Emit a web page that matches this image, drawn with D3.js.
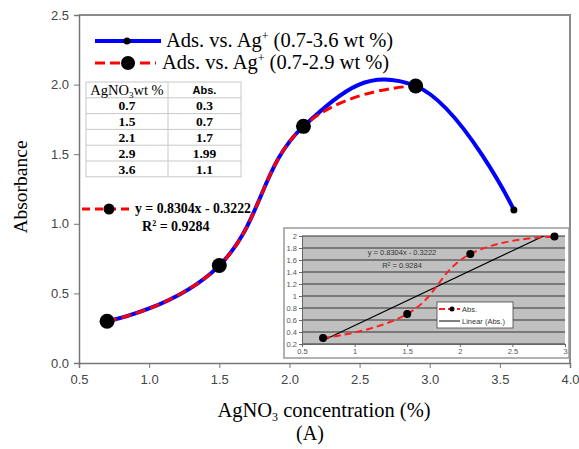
<!DOCTYPE html>
<html>
<head>
<meta charset="utf-8">
<script src="https://cdn.jsdelivr.net/npm/d3@7"></script>
<style>
  body { margin: 0; background: #fff; }
  svg { display: block; }
</style>
</head>
<body>
<script>
const width = 579;
const height = 449;

// main chart data
const concAll = [0.7, 1.5, 2.1, 2.9, 3.6];
const absAll = [0.3, 0.7, 1.7, 1.99, 1.1];
const concFit = [0.7, 1.5, 2.1, 2.9];
const absFit = [0.3, 0.7, 1.7, 1.99];
const xTicks = [0.5, 1.0, 1.5, 2.0, 2.5, 3.0, 3.5, 4.0];
const yTicks = [0.0, 0.5, 1.0, 1.5, 2.0, 2.5];
const seriesRanges = ['(0.7-3.6 wt %)', '(0.7-2.9 wt %)'];

// table
const tableConc = ['0.7', '1.5', '2.1', '2.9', '3.6'];
const tableAbs = ['0.3', '0.7', '1.7', '1.99', '1.1'];

// linear fit
const slope = 0.8304;
const intercept = -0.3222;
const rSquared = 0.9284;

// inset (excel screenshot)
const insetXTicks = [0.5, 1, 1.5, 2, 2.5, 3];
const insetYTicks = [0.2, 0.4, 0.6, 0.8, 1, 1.2, 1.4, 1.6, 1.8, 2];

const serif = '"Liberation Serif", "Times New Roman", serif';
const sans = '"Liberation Sans", Arial, sans-serif';

function main() {
  const svg = d3.select('body').append('svg').attr('width', width).attr('height', height);

  const x = d3.scaleLinear().domain([0.5, 4]).range([79, 570]);
  const y = d3.scaleLinear().domain([0, 2.5]).range([363, 15]);

  drawFrame(svg, x, y);
  drawTable(svg);
  drawInset(svg);
  drawSeries(svg, x, y);
  drawLegend(svg);
  drawFitLabel(svg);
  drawTitles(svg);
}

function drawFrame(svg, x, y) {
  svg.append('path')
    .attr('d', `M${x(0.5)},${y(2.5)}H${x(4)}V${y(0)}`)
    .attr('fill', 'none')
    .attr('stroke', '#8a8a8a')
    .attr('stroke-width', 2);

  const xAxis = svg.append('g')
    .attr('transform', `translate(0,${y(0)})`)
    .call(d3.axisBottom(x).tickValues(xTicks).tickFormat(d3.format('.1f')).tickSize(5).tickPadding(7));
  const yAxis = svg.append('g')
    .attr('transform', `translate(${x(0.5)},0)`)
    .call(d3.axisLeft(y).tickValues(yTicks).tickFormat(d3.format('.1f')).tickSize(5).tickPadding(5));

  [xAxis, yAxis].forEach(g => {
    g.select('.domain').attr('stroke', '#777').attr('stroke-width', 1.5);
    g.selectAll('.tick line').attr('stroke', '#777');
    g.selectAll('.tick text')
      .attr('fill', '#444')
      .style('font-family', sans)
      .style('font-size', '13px');
  });
}

function drawSeries(svg, x, y) {
  const ptsAll = concAll.map((c, i) => [c, absAll[i]]);
  const ptsFit = concFit.map((c, i) => [c, absFit[i]]);

  const line = d3.line()
    .x(d => x(d[0]))
    .y(d => y(d[1]))
    .curve(d3.curveCardinal.tension(-0.3));

  svg.append('path')
    .datum(ptsAll)
    .attr('d', line)
    .attr('fill', 'none')
    .attr('stroke', '#0000ff')
    .attr('stroke-width', 4);

  svg.append('path')
    .datum(ptsFit)
    .attr('d', line)
    .attr('fill', 'none')
    .attr('stroke', '#ff0000')
    .attr('stroke-width', 3)
    .attr('stroke-dasharray', '10,5');

  svg.append('g')
    .selectAll('circle')
    .data(ptsAll)
    .enter()
    .append('circle')
    .attr('cx', d => x(d[0]))
    .attr('cy', d => y(d[1]))
    .attr('r', (d, i) => (i < ptsFit.length ? 7.5 : 3.5))
    .attr('fill', '#000');
}

function legendLabel(g, xPos, yPos, range) {
  const t = g.append('text')
    .attr('x', xPos)
    .attr('y', yPos)
    .style('font-family', serif)
    .style('font-size', '20.5px')
    .attr('fill', '#000');
  t.append('tspan').text('Ads. vs. Ag');
  t.append('tspan').attr('dy', -7).style('font-size', '12px').text('+');
  t.append('tspan').attr('dy', 7).text(' ' + range);
}

function drawLegend(svg) {
  const g = svg.append('g');

  g.append('line')
    .attr('x1', 95).attr('x2', 161).attr('y1', 41).attr('y2', 41)
    .attr('stroke', '#0000ff').attr('stroke-width', 4);
  g.append('circle').attr('cx', 127).attr('cy', 41).attr('r', 3.5).attr('fill', '#000');
  legendLabel(g, 166, 47, seriesRanges[0]);

  g.append('line')
    .attr('x1', 95).attr('x2', 156).attr('y1', 63).attr('y2', 63)
    .attr('stroke', '#ff0000').attr('stroke-width', 3).attr('stroke-dasharray', '10,5');
  g.append('circle').attr('cx', 128).attr('cy', 63).attr('r', 7).attr('fill', '#000');
  legendLabel(g, 162, 69, seriesRanges[1]);
}

function drawTable(svg) {
  const left = 86, mid = 168, right = 241, top = 82, rowH = 15.8;
  const rows = tableConc.length + 1;
  const g = svg.append('g');

  g.append('rect')
    .attr('x', left).attr('y', top)
    .attr('width', right - left).attr('height', rows * rowH)
    .attr('fill', '#fff').attr('stroke', '#c8c8c8');
  g.append('line')
    .attr('x1', mid).attr('x2', mid).attr('y1', top).attr('y2', top + rows * rowH)
    .attr('stroke', '#c8c8c8');
  d3.range(1, rows).forEach(i => {
    g.append('line')
      .attr('x1', left).attr('x2', right)
      .attr('y1', top + i * rowH).attr('y2', top + i * rowH)
      .attr('stroke', '#c8c8c8');
  });

  const head = g.append('text')
    .attr('x', (left + mid) / 2).attr('y', top + 12.5)
    .attr('text-anchor', 'middle')
    .style('font-family', serif).style('font-size', '14.5px');
  head.append('tspan').text('AgNO');
  head.append('tspan').attr('dy', 3).style('font-size', '9px').text('3');
  head.append('tspan').attr('dy', -3).text('wt %');

  g.append('text')
    .attr('x', (mid + right) / 2).attr('y', top + 12)
    .attr('text-anchor', 'middle')
    .style('font-family', sans).style('font-size', '11px').style('font-weight', 'bold')
    .text('Abs.');

  tableConc.forEach((c, i) => {
    const yy = top + (i + 1) * rowH + 12.5;
    g.append('text')
      .attr('x', (left + mid) / 2).attr('y', yy)
      .attr('text-anchor', 'middle')
      .style('font-family', serif).style('font-size', '13.5px').style('font-weight', 'bold')
      .text(c);
    g.append('text')
      .attr('x', (mid + right) / 2).attr('y', yy)
      .attr('text-anchor', 'middle')
      .style('font-family', serif).style('font-size', '13.5px').style('font-weight', 'bold')
      .text(tableAbs[i]);
  });
}

function drawFitLabel(svg) {
  const g = svg.append('g');
  g.append('line')
    .attr('x1', 82).attr('x2', 131).attr('y1', 209).attr('y2', 209)
    .attr('stroke', '#ff0000').attr('stroke-width', 3).attr('stroke-dasharray', '8,5');
  g.append('circle').attr('cx', 109).attr('cy', 209).attr('r', 5.5).attr('fill', '#000');

  g.append('text')
    .attr('x', 135).attr('y', 213)
    .style('font-family', serif).style('font-size', '13.8px').style('font-weight', 'bold')
    .text(`y = ${slope}x - ${Math.abs(intercept)}`);

  const r = g.append('text')
    .attr('x', 142).attr('y', 231)
    .style('font-family', serif).style('font-size', '14px').style('font-weight', 'bold');
  r.append('tspan').text('R');
  r.append('tspan').attr('dy', -5).style('font-size', '8px').text('2');
  r.append('tspan').attr('dy', 5).text(` = ${rSquared}`);
}

function drawInset(svg) {
  const ix = d3.scaleLinear().domain([0.5, 3]).range([302, 565]);
  const iy = d3.scaleLinear().domain([0.2, 2]).range([344, 236]);
  const g = svg.append('g');

  g.append('rect')
    .attr('x', 284).attr('y', 228).attr('width', 285).attr('height', 130)
    .attr('fill', '#fff').attr('stroke', '#999').attr('stroke-width', 1.5);

  g.append('rect')
    .attr('x', ix(0.5)).attr('y', iy(2))
    .attr('width', ix(3) - ix(0.5)).attr('height', iy(0.2) - iy(2))
    .attr('fill', '#c0c0c0');

  g.selectAll('.grid')
    .data(insetYTicks)
    .enter()
    .append('line')
    .attr('x1', ix(0.5)).attr('x2', ix(3))
    .attr('y1', d => iy(d)).attr('y2', d => iy(d))
    .attr('stroke', '#333').attr('stroke-width', 1);

  const xa = g.append('g')
    .attr('transform', `translate(0,${iy(0.2)})`)
    .call(d3.axisBottom(ix).tickValues(insetXTicks).tickFormat(d => String(d)).tickSize(3).tickPadding(2));
  const ya = g.append('g')
    .attr('transform', `translate(${ix(0.5)},0)`)
    .call(d3.axisLeft(iy).tickValues(insetYTicks).tickFormat(d => String(d)).tickSize(3).tickPadding(2));
  [xa, ya].forEach(a => {
    a.select('.domain').attr('stroke', '#666');
    a.selectAll('.tick line').attr('stroke', '#666');
    a.selectAll('.tick text')
      .attr('fill', '#555')
      .style('font-family', sans)
      .style('font-size', '7.5px');
  });

  // linear trend, clipped to the plot area
  g.append('clipPath').attr('id', 'inset-clip')
    .append('rect')
    .attr('x', ix(0.5)).attr('y', iy(2))
    .attr('width', ix(3) - ix(0.5)).attr('height', iy(0.2) - iy(2));

  const x0 = concFit[0], x1 = concFit[concFit.length - 1];
  g.append('line')
    .attr('clip-path', 'url(#inset-clip)')
    .attr('x1', ix(x0)).attr('y1', iy(slope * x0 + intercept))
    .attr('x2', ix(x1)).attr('y2', iy(slope * x1 + intercept))
    .attr('stroke', '#000').attr('stroke-width', 1.2);

  const pts = concFit.map((c, i) => [c, absFit[i]]);
  g.append('path')
    .datum(pts)
    .attr('d', d3.line().x(d => ix(d[0])).y(d => iy(d[1])).curve(d3.curveCardinal.tension(-0.3)))
    .attr('fill', 'none')
    .attr('stroke', '#ff2020')
    .attr('stroke-width', 2)
    .attr('stroke-dasharray', '7,4');

  g.selectAll('.ipt')
    .data(pts)
    .enter()
    .append('circle')
    .attr('cx', d => ix(d[0])).attr('cy', d => iy(d[1]))
    .attr('r', 4).attr('fill', '#000');

  g.append('text')
    .attr('x', 402).attr('y', 255)
    .attr('text-anchor', 'middle')
    .attr('fill', '#333')
    .style('font-family', sans).style('font-size', '7.5px')
    .text(`y = ${slope}x - ${Math.abs(intercept)}`);
  const r = g.append('text')
    .attr('x', 402).attr('y', 268)
    .attr('text-anchor', 'middle')
    .attr('fill', '#333')
    .style('font-family', sans).style('font-size', '7.5px');
  r.append('tspan').text('R');
  r.append('tspan').attr('dy', -2).style('font-size', '5px').text('2');
  r.append('tspan').attr('dy', 2).text(` = ${rSquared}`);

  // inset legend
  const lg = g.append('g');
  lg.append('rect')
    .attr('x', 437).attr('y', 302).attr('width', 76).attr('height', 26)
    .attr('fill', '#fff').attr('stroke', '#444').attr('stroke-width', 0.8);
  lg.append('line')
    .attr('x1', 439).attr('x2', 460).attr('y1', 309).attr('y2', 309)
    .attr('stroke', '#ff2020').attr('stroke-width', 2).attr('stroke-dasharray', '6,3');
  lg.append('circle').attr('cx', 452).attr('cy', 309).attr('r', 2.5).attr('fill', '#000');
  lg.append('text')
    .attr('x', 462).attr('y', 311.5)
    .attr('fill', '#333')
    .style('font-family', sans).style('font-size', '7.5px')
    .text('Abs.');
  lg.append('line')
    .attr('x1', 439).attr('x2', 460).attr('y1', 321).attr('y2', 321)
    .attr('stroke', '#000').attr('stroke-width', 1);
  lg.append('text')
    .attr('x', 462).attr('y', 323.5)
    .attr('fill', '#333')
    .style('font-family', sans).style('font-size', '7.5px')
    .text('Linear (Abs.)');
}

function drawTitles(svg) {
  svg.append('text')
    .attr('transform', 'translate(27,187) rotate(-90)')
    .attr('text-anchor', 'middle')
    .style('font-family', serif).style('font-size', '19.5px')
    .text('Absorbance');

  const t = svg.append('text')
    .attr('x', 324).attr('y', 417)
    .attr('text-anchor', 'middle')
    .style('font-family', serif).style('font-size', '20.5px');
  t.append('tspan').text('AgNO');
  t.append('tspan').attr('dy', 4).style('font-size', '12px').text('3');
  t.append('tspan').attr('dy', -4).text(' concentration (%)');

  svg.append('text')
    .attr('x', 310).attr('y', 440)
    .attr('text-anchor', 'middle')
    .style('font-family', serif).style('font-size', '20px')
    .text('(A)');
}

main();
</script>
</body>
</html>
